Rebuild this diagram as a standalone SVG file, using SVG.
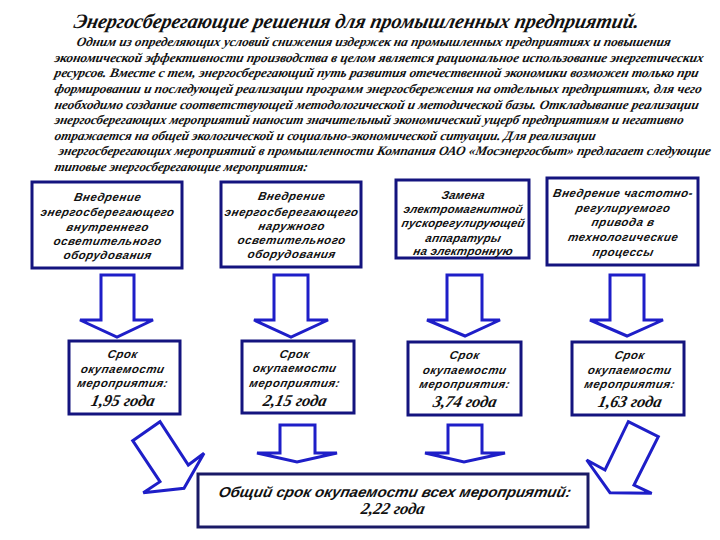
<svg xmlns="http://www.w3.org/2000/svg" width="720" height="540" viewBox="0 0 720 540">
  <style>
    .title { font-family: "Liberation Serif", "Times New Roman", serif; font-weight: bold; font-style: italic; font-size: 20.5px; fill: #111; }
    .para { font-family: "Liberation Serif", "Times New Roman", serif; font-weight: bold; font-style: italic; font-size: 13px; fill: #111; }
    .box { fill: #ffffff; stroke: #14147f; stroke-width: 3; }
    .btxt { font-family: "Liberation Sans", Arial, sans-serif; font-weight: bold; font-style: italic; font-size: 11.5px; letter-spacing: 0.5px; fill: #111; text-anchor: middle; }
    .num { font-family: "Liberation Serif", "Times New Roman", serif; font-weight: bold; font-style: italic; font-size: 16.5px; fill: #111; text-anchor: middle; }
    .arrow { fill: #ffffff; stroke: #1e1ec8; stroke-width: 3; stroke-linejoin: miter; }
    .total { font-family: "Liberation Sans", Arial, sans-serif; font-weight: bold; font-style: italic; font-size: 14.5px; fill: #111; }
    .totnum { font-family: "Liberation Serif", "Times New Roman", serif; font-weight: bold; font-style: italic; font-size: 16.5px; fill: #111; text-anchor: middle; }
  </style>
  <rect x="0" y="0" width="720" height="540" fill="#ffffff"/>

  <g id="header">
    <text class="title" transform="translate(73,28) skewX(-12)" textLength="565" lengthAdjust="spacingAndGlyphs">Энергосберегающие решения для промышленных предприятий.</text>
    <text class="para" transform="translate(76,46) skewX(-12)" textLength="594" lengthAdjust="spacingAndGlyphs">Одним из определяющих условий снижения издержек на промышленных предприятиях и повышения</text>
    <text class="para" transform="translate(54,61.7) skewX(-12)" textLength="649" lengthAdjust="spacingAndGlyphs">экономической эффективности производства в целом является рациональное использование энергетических</text>
    <text class="para" transform="translate(54,77.3) skewX(-12)" textLength="644" lengthAdjust="spacingAndGlyphs">ресурсов. Вместе с тем, энергосберегающий путь развития отечественной экономики возможен только при</text>
    <text class="para" transform="translate(54,93) skewX(-12)" textLength="647" lengthAdjust="spacingAndGlyphs">формировании и последующей реализации программ энергосбережения на отдельных предприятиях, для чего</text>
    <text class="para" transform="translate(54,108.5) skewX(-12)" textLength="644" lengthAdjust="spacingAndGlyphs">необходимо создание соответствующей методологической и методической базы. Откладывание реализации</text>
    <text class="para" transform="translate(54,124) skewX(-12)" textLength="629" lengthAdjust="spacingAndGlyphs">энергосберегающих мероприятий наносит значительный экономический ущерб предприятиям и негативно</text>
    <text class="para" transform="translate(54,139.7) skewX(-12)" textLength="541" lengthAdjust="spacingAndGlyphs">отражается на общей экологической и социально-экономической ситуации. Для реализации</text>
    <text class="para" transform="translate(58,155.3) skewX(-12)" textLength="652" lengthAdjust="spacingAndGlyphs">энергосберегающих мероприятий в  промышленности Компания ОАО «Мосэнергосбыт» предлагает следующие</text>
    <text class="para" transform="translate(54,171) skewX(-12)" textLength="253" lengthAdjust="spacingAndGlyphs">типовые энергосберегающие мероприятия:</text>
  </g>

  <g id="measure1">
    <rect class="box" x="32" y="182" width="150" height="86"/>
    <text class="btxt" transform="translate(107,201) skewX(-12)">Внедрение</text>
    <text class="btxt" transform="translate(107,216.3) skewX(-12)">энергосберегающего</text>
    <text class="btxt" transform="translate(107,230.7) skewX(-12)">внутреннего</text>
    <text class="btxt" transform="translate(107,244.7) skewX(-12)">осветительного</text>
    <text class="btxt" transform="translate(107,259) skewX(-12)">оборудования</text>
  </g>
  <g id="measure2">
    <rect class="box" x="221" y="182" width="140" height="85"/>
    <text class="btxt" transform="translate(291,200) skewX(-12)">Внедрение</text>
    <text class="btxt" transform="translate(291,215.7) skewX(-12)">энергосберегающего</text>
    <text class="btxt" transform="translate(291,230) skewX(-12)">наружного</text>
    <text class="btxt" transform="translate(291,244) skewX(-12)">осветительного</text>
    <text class="btxt" transform="translate(291,258.3) skewX(-12)">оборудования</text>
  </g>
  <g id="measure3">
    <rect class="box" x="396" y="180" width="133" height="78"/>
    <text class="btxt" style="letter-spacing:0.2px" transform="translate(462.5,199) skewX(-12)">Замена</text>
    <text class="btxt" style="letter-spacing:0.2px" transform="translate(462.5,213.3) skewX(-12)">электромагнитной</text>
    <text class="btxt" style="letter-spacing:0.2px" transform="translate(462.5,227.3) skewX(-12)">пускорегулирующей</text>
    <text class="btxt" style="letter-spacing:0.2px" transform="translate(462.5,241.7) skewX(-12)">аппаратуры</text>
    <text class="btxt" style="letter-spacing:0.2px" transform="translate(462.5,255) skewX(-12)">на электронную</text>
  </g>
  <g id="measure4">
    <rect class="box" x="547" y="178" width="151" height="87"/>
    <text class="btxt" transform="translate(622.5,197.3) skewX(-12)">Внедрение частотно-</text>
    <text class="btxt" transform="translate(622.5,211.7) skewX(-12)">регулируемого</text>
    <text class="btxt" transform="translate(622.5,226.3) skewX(-12)">привода в</text>
    <text class="btxt" transform="translate(622.5,240.7) skewX(-12)">технологические</text>
    <text class="btxt" transform="translate(622.5,255.7) skewX(-12)">процессы</text>
  </g>

  <g id="payback1">
    <rect class="box" x="69" y="341" width="111" height="73"/>
    <text class="btxt" transform="translate(122,358.3) skewX(-12)">Срок</text>
    <text class="btxt" transform="translate(122,373) skewX(-12)">окупаемости</text>
    <text class="btxt" transform="translate(122,387.3) skewX(-12)">мероприятия:</text>
    <text class="num" transform="translate(122,405.5) skewX(-12)">1,95 года</text>
  </g>
  <g id="payback2">
    <rect class="box" x="242" y="341" width="112" height="72"/>
    <text class="btxt" transform="translate(294,358) skewX(-12)">Срок</text>
    <text class="btxt" transform="translate(294,372) skewX(-12)">окупаемости</text>
    <text class="btxt" transform="translate(294,387) skewX(-12)">мероприятия:</text>
    <text class="num" transform="translate(294,405.5) skewX(-12)">2,15 года</text>
  </g>
  <g id="payback3">
    <rect class="box" x="408" y="342" width="113" height="73"/>
    <text class="btxt" transform="translate(464,359) skewX(-12)">Срок</text>
    <text class="btxt" transform="translate(464,374) skewX(-12)">окупаемости</text>
    <text class="btxt" transform="translate(464,388) skewX(-12)">мероприятия:</text>
    <text class="num" transform="translate(464,406.5) skewX(-12)">3,74 года</text>
  </g>
  <g id="payback4">
    <rect class="box" x="572" y="342" width="112" height="73"/>
    <text class="btxt" transform="translate(629,359) skewX(-12)">Срок</text>
    <text class="btxt" transform="translate(629,374) skewX(-12)">окупаемости</text>
    <text class="btxt" transform="translate(629,388) skewX(-12)">мероприятия:</text>
    <text class="num" transform="translate(629,406.5) skewX(-12)">1,63 года</text>
  </g>

  <g id="total">
    <rect x="198" y="474" width="390" height="53" fill="#ffffff" stroke="#1a1a66" stroke-width="3"/>
    <text class="total" transform="translate(218,497) skewX(-12)" textLength="352" lengthAdjust="spacingAndGlyphs">Общий срок окупаемости всех мероприятий:</text>
    <text class="totnum" transform="translate(392,513.5) skewX(-12)">2,22 года</text>
  </g>

  <g id="connectors">
    <polygon class="arrow" points="101,275 134,275 134,320 153,320 117,337 80,320 101,320"/>
    <polygon class="arrow" points="274,275 308,275 308,320 328,320 291,337 254,320 274,320"/>
    <polygon class="arrow" points="447,275 482,275 482,320 500,320 465,336 427,320 447,320"/>
    <polygon class="arrow" points="610,275 644,275 644,320 663,320 627,336 590,320 610,320"/>
    <polygon class="arrow" points="280,425 315,425 315,453 337,453 297,462 257,453 280,453"/>
    <polygon class="arrow" points="448,425 482,425 482,453 505,453 464,462 425,453 448,453"/>
    <polygon class="arrow" points="132.7,440.7 160,421.7 188.3,465 204,453.3 184,488.3 143.3,492.7 160,481.7"/>
    <polygon class="arrow" points="628.3,421.7 658.3,436.7 634,485 651.7,493.3 610,492.7 586.7,460 605,470"/>
  </g>
</svg>
